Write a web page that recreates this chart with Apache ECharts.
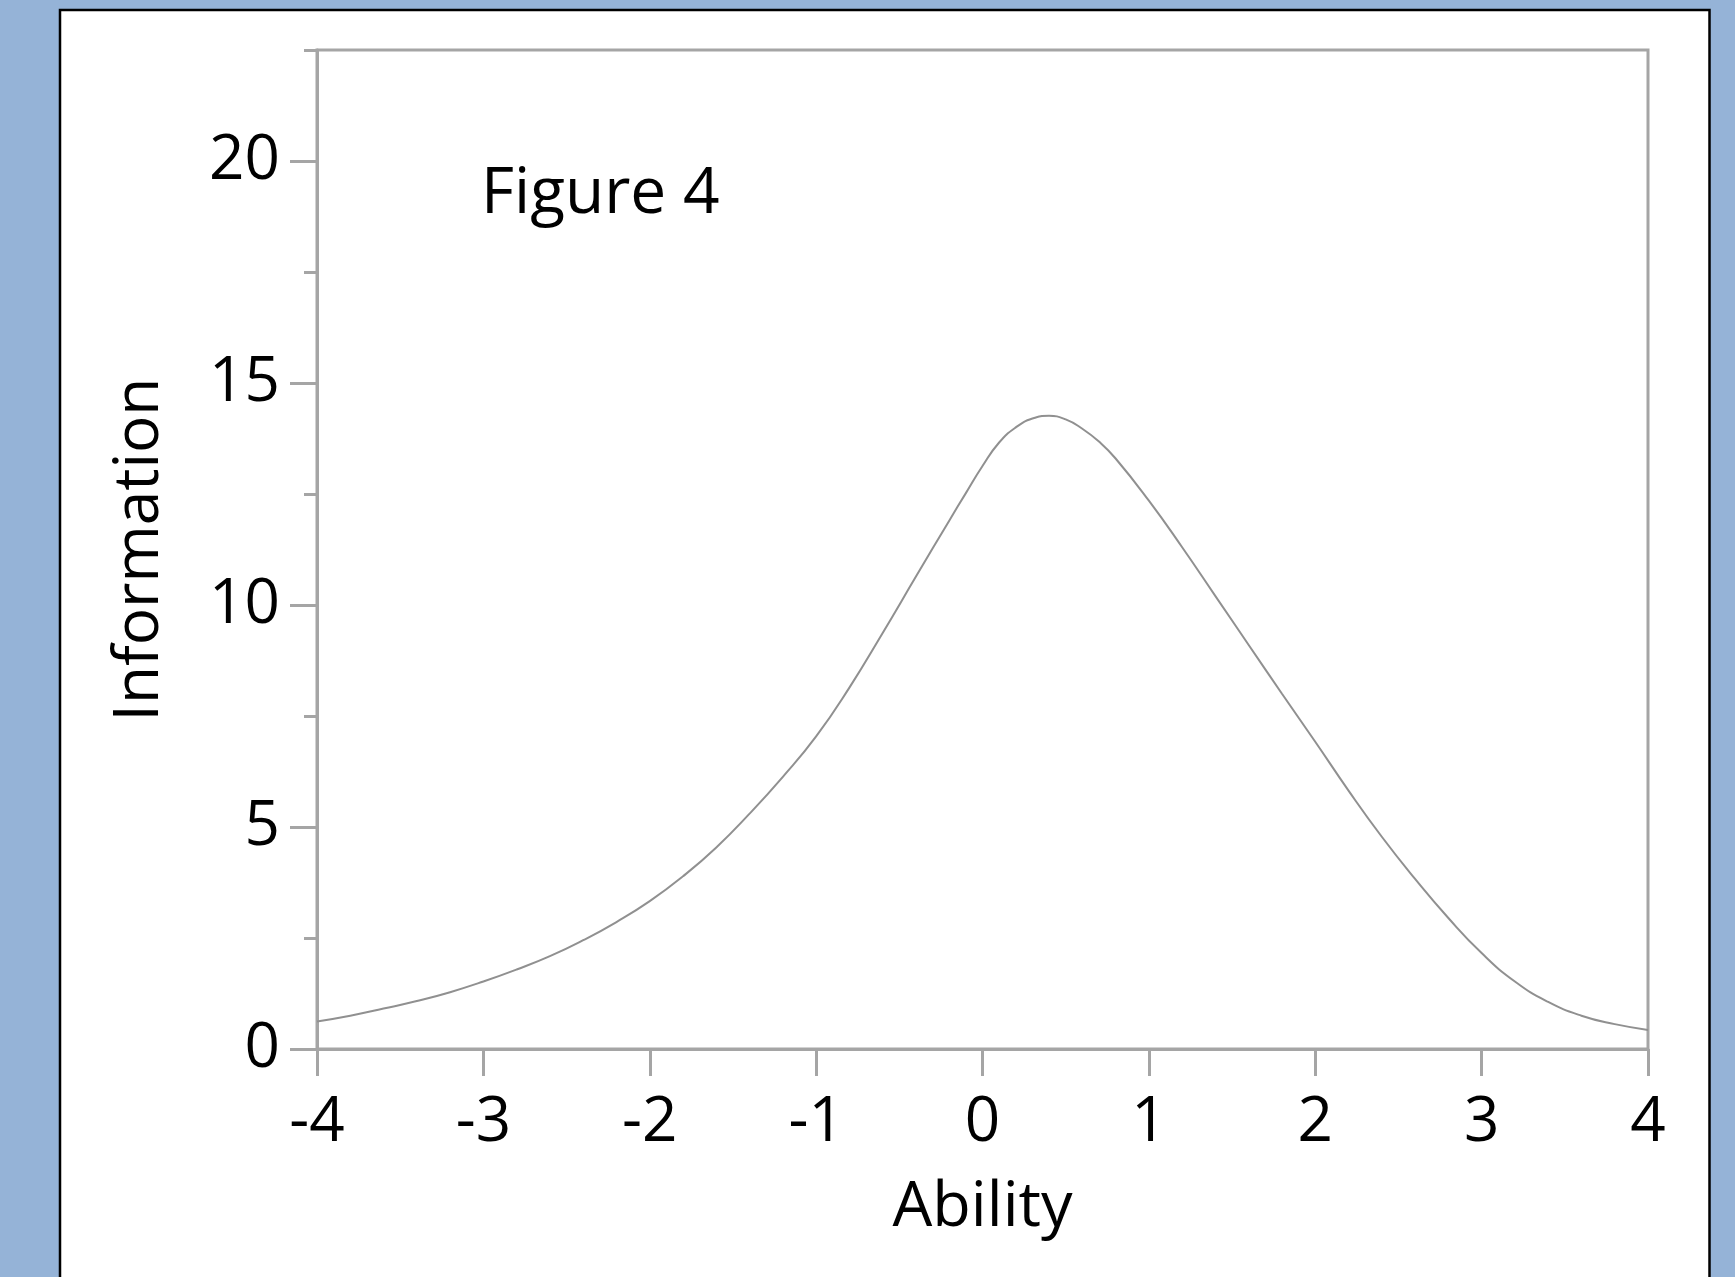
<!DOCTYPE html>
<html>
<head>
<meta charset="utf-8">
<script src="https://cdn.jsdelivr.net/npm/echarts@6/dist/echarts.min.js"></script>
<style>
html,body{margin:0;padding:0;background:#95b3d7;}
#c{width:1735px;height:1277px;}
</style>
</head>
<body>
<div id="c"></div>
<script>
// Data
const abilityValues = [-4.0,-3.8,-3.6,-3.4,-3.2,-3.0,-2.8,-2.6,-2.4,-2.2,-2.0,-1.8,-1.6,-1.4,-1.2,-1.0,-0.8,-0.6,-0.4,-0.2,-0.1,0.0,0.1,0.2,0.3,0.4,0.5,0.6,0.7,0.8,1.0,1.2,1.4,1.6,1.8,2.0,2.2,2.4,2.6,2.8,3.0,3.2,3.4,3.6,3.8,4.0];
const informationValues = [0.62,0.75,0.91,1.08,1.28,1.52,1.79,2.09,2.45,2.86,3.33,3.89,4.54,5.3,6.13,7.04,8.14,9.37,10.64,11.9,12.52,13.13,13.66,14.0,14.2,14.26,14.18,13.97,13.68,13.3,12.35,11.3,10.2,9.1,8.0,6.92,5.82,4.78,3.83,2.95,2.16,1.52,1.06,0.75,0.56,0.43];
const xTickValues = [-4,-3,-2,-1,0,1,2,3,4];
const yMajorTicks = [0,5,10,15,20];
const yMinorTicks = [2.5,7.5,12.5,17.5,22.5];
const titleText = 'Figure 4';
const xName = 'Ability';
const yName = 'Information';

const points = abilityValues.map((a, i) => [a, informationValues[i]]);

const FONT = '"Open Sans", "Noto Sans", sans-serif';
const AXIS_COLOR = '#a5a5a5';

const chart = echarts.init(document.getElementById('c'), null, {renderer: 'canvas'});
chart.setOption({
  backgroundColor: '#95b3d7',
  animation: false,
  graphic: [{
    type: 'rect',
    z: -10,
    silent: true,
    shape: {x: 60, y: 10, width: 1649.5, height: 1400},
    style: {fill: '#ffffff', stroke: '#000000', lineWidth: 2.5}
  }, {
    type: 'text',
    z: 10,
    left: 481,
    top: 163,
    style: {text: titleText, font: '64px ' + FONT, fill: '#000000'}
  }],
  grid: {
    left: 317, right: 87, top: 50, bottom: 228,
    show: true, borderColor: AXIS_COLOR, borderWidth: 3,
    backgroundColor: 'transparent', containLabel: false
  },
  xAxis: {
    type: 'value', min: -4, max: 4, interval: 1,
    name: xName, nameLocation: 'middle', nameGap: 128,
    nameTextStyle: {fontFamily: FONT, fontSize: 63, color: '#000'},
    axisLine: {show: true, onZero: false, lineStyle: {color: AXIS_COLOR, width: 3}},
    axisTick: {show: true, length: 27, lineStyle: {color: AXIS_COLOR, width: 3}, customValues: xTickValues},
    axisLabel: {margin: 43, fontFamily: FONT, fontSize: 62, color: '#000', customValues: xTickValues},
    splitLine: {show: false}
  },
  yAxis: [{
    type: 'value', min: 0, max: 22.5, interval: 5,
    name: yName, nameLocation: 'middle', nameGap: 146, nameRotate: 90,
    nameTextStyle: {fontFamily: FONT, fontSize: 62, color: '#000'},
    axisLine: {show: true, onZero: false, lineStyle: {color: AXIS_COLOR, width: 3}},
    axisTick: {show: true, length: 27, lineStyle: {color: AXIS_COLOR, width: 3}, customValues: yMajorTicks},
    axisLabel: {margin: 37, padding: [9, 0, 0, 0], fontFamily: FONT, fontSize: 62, color: '#000', customValues: yMajorTicks},
    splitLine: {show: false}
  }, {
    type: 'value', min: 0, max: 22.5, interval: 2.5, position: 'left', offset: 0,
    axisLine: {show: false, onZero: false},
    axisTick: {show: true, length: 13, lineStyle: {color: AXIS_COLOR, width: 3}, customValues: yMinorTicks},
    axisLabel: {show: false},
    splitLine: {show: false}
  }],
  series: [{
    type: 'line',
    data: points,
    yAxisIndex: 0,
    smooth: 0.5,
    showSymbol: false,
    lineStyle: {color: '#909090', width: 2}
  }]
});
</script>
</body>
</html>
